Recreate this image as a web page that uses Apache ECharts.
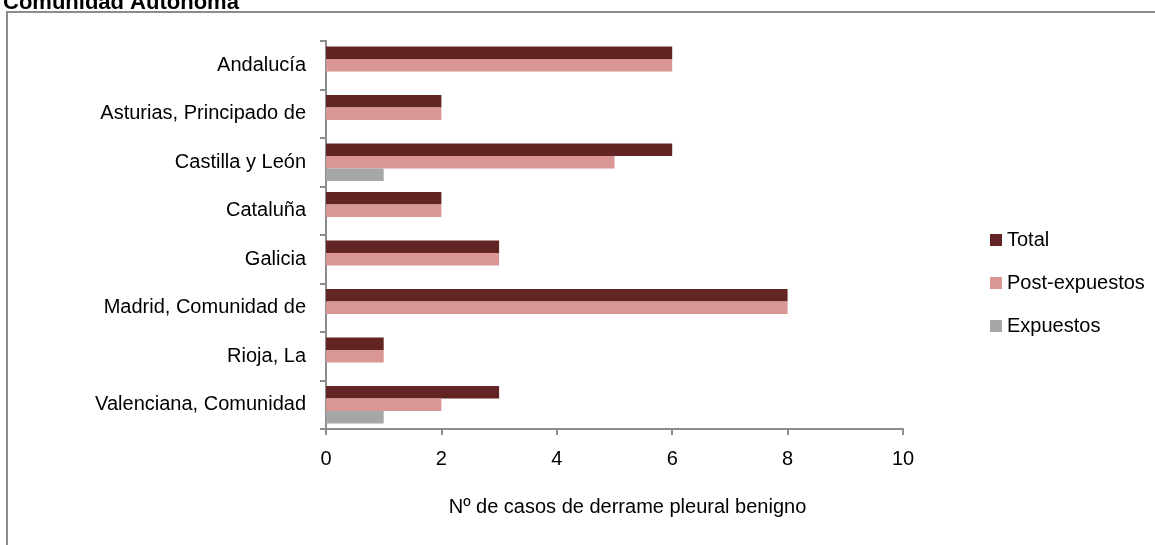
<!DOCTYPE html>
<html>
<head>
<meta charset="utf-8">
<script src="https://cdn.jsdelivr.net/npm/echarts@6/dist/echarts.min.js"></script>
<style>
  html, body { margin: 0; padding: 0; background: #fff; }
  #chart { width: 1155px; height: 545px; }
</style>
</head>
<body>
<div id="chart"></div>
<script>
  'use strict';

  var comunidades = [
    'Andalucía',
    'Asturias, Principado de',
    'Castilla y León',
    'Cataluña',
    'Galicia',
    'Madrid, Comunidad de',
    'Rioja, La',
    'Valenciana, Comunidad'
  ];
  var total = [6, 2, 6, 2, 3, 8, 1, 3];
  var postExpuestos = [6, 2, 5, 2, 3, 8, 1, 2];
  var expuestos = [0, 0, 1, 0, 0, 0, 0, 1];

  var fuente = '"Liberation Sans Narrow", "Liberation Sans", sans-serif';

  var chart = echarts.init(document.getElementById('chart'));

  chart.setOption({
    animation: false,
    title: {
      text: 'Comunidad Autónoma',
      left: -2,
      top: -13,
      textStyle: { fontFamily: 'Liberation Sans', fontWeight: 'bold', fontSize: 22, color: '#000' }
    },
    graphic: [{
      type: 'rect',
      shape: { x: 7, y: 12, width: 1160, height: 560 },
      style: { fill: 'none', stroke: '#8c8c8c', lineWidth: 2 },
      silent: true
    }],
    legend: {
      orient: 'vertical',
      left: 985,
      top: 225,
      itemWidth: 12,
      itemHeight: 12,
      itemGap: 23,
      icon: 'rect',
      textStyle: { fontFamily: fuente, fontSize: 20, color: '#000' },
      data: ['Total', 'Post-expuestos', 'Expuestos']
    },
    grid: { left: 326, right: 252, top: 41, bottom: 116 },
    xAxis: {
      type: 'value',
      min: 0,
      max: 10,
      interval: 2,
      name: 'Nº de casos de derrame pleural benigno',
      nameLocation: 'middle',
      nameGap: 68,
      nameTextStyle: { fontFamily: fuente, fontSize: 20, color: '#000', padding: [0, 0, 0, 26] },
      axisLine: { show: true, lineStyle: { color: '#8c8c8c', width: 2 } },
      axisTick: { show: true, length: 6, lineStyle: { color: '#8c8c8c', width: 2 } },
      axisLabel: { fontFamily: fuente, fontSize: 20, color: '#000', margin: 20 },
      splitLine: { show: false }
    },
    yAxis: {
      type: 'category',
      inverse: true,
      data: comunidades,
      axisLine: { show: true, lineStyle: { color: '#8c8c8c', width: 2 } },
      axisTick: { show: true, length: 6, lineStyle: { color: '#8c8c8c', width: 2 } },
      axisLabel: { fontFamily: fuente, fontSize: 20, color: '#000', margin: 20 }
    },
    series: [
      {
        name: 'Total', type: 'bar', data: total,
        barWidth: 12.5, barGap: '0%',
        itemStyle: { color: '#632523' }
      },
      {
        name: 'Post-expuestos', type: 'bar', data: postExpuestos,
        barWidth: 12.5, barGap: '0%',
        itemStyle: { color: '#d99694' }
      },
      {
        name: 'Expuestos', type: 'bar', data: expuestos,
        barWidth: 12.5, barGap: '0%',
        itemStyle: { color: '#a6a6a6' }
      }
    ]
  });
</script>
</body>
</html>
